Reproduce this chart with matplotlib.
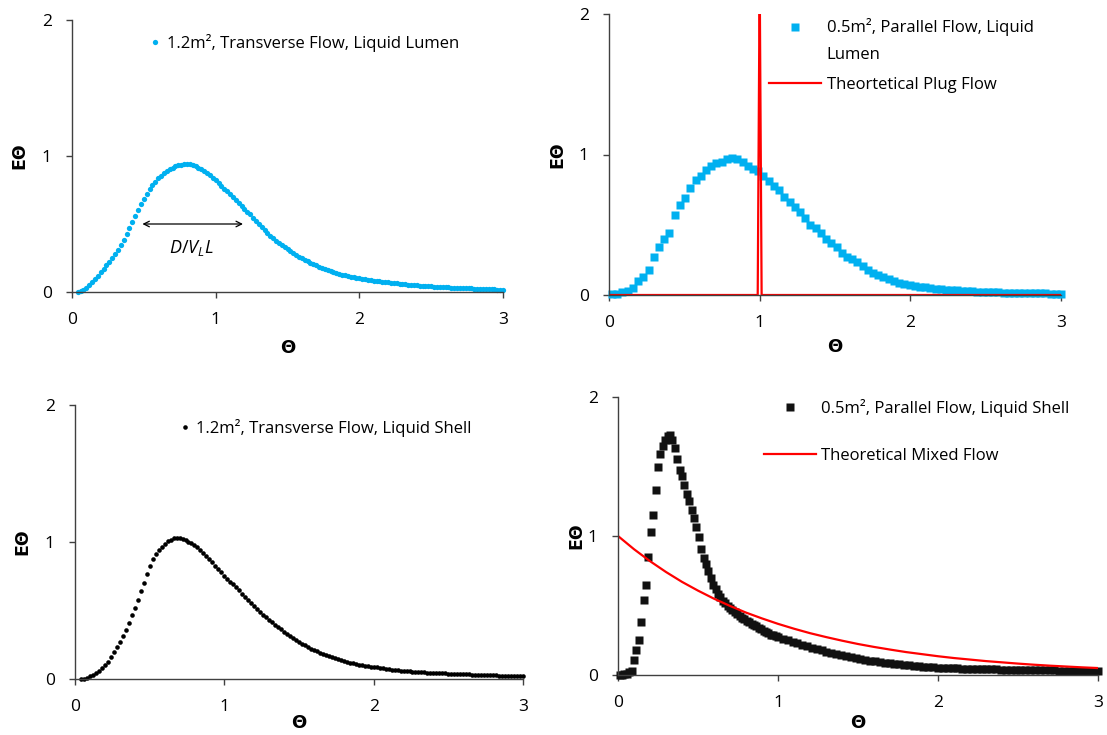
import matplotlib
matplotlib.use('Agg')
import matplotlib.pyplot as plt
import matplotlib.transforms as mtransforms
from matplotlib.legend_handler import HandlerLine2D
import numpy as np

plt.rcParams['font.family'] = ['Open Sans', 'DejaVu Sans']
plt.rcParams['mathtext.fontset'] = 'custom'
plt.rcParams['mathtext.it'] = 'Open Sans:italic'
plt.rcParams['mathtext.rm'] = 'Open Sans'

# --- data ---
# 1.2 m2, transverse flow, liquid lumen (theta 0.04 .. 3.00, step 0.02)
lumen_tf = [
    0.00, 0.005, 0.015, 0.03, 0.05, 0.07, 0.095, 0.12, 0.145, 0.17,
    0.195, 0.22, 0.25, 0.28, 0.31, 0.345, 0.385, 0.425, 0.47, 0.515,
    0.56, 0.605, 0.645, 0.685, 0.72, 0.755, 0.785, 0.81, 0.835, 0.855,
    0.875, 0.89, 0.905, 0.915, 0.925, 0.932, 0.937, 0.94, 0.94, 0.938,
    0.933, 0.925, 0.915, 0.903, 0.89, 0.875, 0.86, 0.84, 0.82, 0.80,
    0.78, 0.76, 0.74, 0.72, 0.70, 0.68, 0.655, 0.635, 0.61, 0.59,
    0.57, 0.545, 0.52, 0.50, 0.475, 0.455, 0.435, 0.415, 0.395, 0.375,
    0.36, 0.345, 0.33, 0.315, 0.30, 0.285, 0.27, 0.26, 0.248, 0.237,
    0.226, 0.215, 0.205, 0.195, 0.186, 0.177, 0.168, 0.16, 0.153, 0.146,
    0.14, 0.134, 0.128, 0.123, 0.118, 0.113, 0.109, 0.105, 0.10, 0.097,
    0.093, 0.09, 0.087, 0.084, 0.081, 0.078, 0.075, 0.073, 0.07, 0.068,
    0.066, 0.063, 0.061, 0.059, 0.057, 0.055, 0.053, 0.051, 0.049, 0.047,
    0.046, 0.044, 0.043, 0.041, 0.04, 0.039, 0.037, 0.036, 0.035, 0.034,
    0.033, 0.032, 0.031, 0.03, 0.029, 0.028, 0.027, 0.026, 0.025, 0.024,
    0.023, 0.022, 0.021, 0.02, 0.02, 0.019, 0.018, 0.017, 0.016,
]
theta_lumen_tf = np.linspace(0.04, 3.0, len(lumen_tf))

# 0.5 m2, parallel flow, liquid lumen (theta 0.02 .. 3.00)
lumen_pf = [
    0.005, 0.01, 0.018, 0.026, 0.05, 0.10, 0.13, 0.18, 0.27, 0.34,
    0.40, 0.44, 0.57, 0.64, 0.69, 0.76, 0.82, 0.85, 0.89, 0.92,
    0.94, 0.95, 0.965, 0.975, 0.965, 0.945, 0.92, 0.90, 0.88, 0.85,
    0.81, 0.775, 0.745, 0.70, 0.66, 0.625, 0.59, 0.545, 0.50, 0.475,
    0.44, 0.40, 0.37, 0.34, 0.30, 0.27, 0.255, 0.235, 0.205, 0.18,
    0.16, 0.14, 0.128, 0.115, 0.10, 0.088, 0.08, 0.072, 0.066, 0.06,
    0.055, 0.05, 0.046, 0.042, 0.039, 0.036, 0.033, 0.03, 0.028, 0.026,
    0.024, 0.022, 0.021, 0.02, 0.018, 0.017, 0.016, 0.015, 0.014, 0.013,
    0.013, 0.012, 0.011, 0.011, 0.01, 0.01, 0.01,
]
theta_lumen_pf = np.linspace(0.02, 3.0, len(lumen_pf))

# theoretical plug flow (narrow spike at theta = 1)
plug_theta = [0.0, 0.987, 1.0, 1.013, 3.0]
plug_e = [0.0, 0.0, 2.3, 0.0, 0.0]

# 1.2 m2, transverse flow, liquid shell (theta 0.04 .. 3.00, step 0.02)
shell_tf = [
    0.0, 0.003, 0.01, 0.02, 0.03, 0.045, 0.06, 0.08, 0.10, 0.125,
    0.16, 0.195, 0.23, 0.27, 0.315, 0.36, 0.41, 0.465, 0.52, 0.58,
    0.64, 0.70, 0.765, 0.825, 0.875, 0.915, 0.945, 0.965, 0.985, 1.005,
    1.018, 1.027, 1.03, 1.028, 1.022, 1.013, 1.002, 0.99, 0.977, 0.96,
    0.942, 0.922, 0.90, 0.876, 0.852, 0.828, 0.804, 0.78, 0.755, 0.733,
    0.711, 0.69, 0.668, 0.646, 0.624, 0.602, 0.58, 0.557, 0.534, 0.512,
    0.49, 0.47, 0.45, 0.431, 0.413, 0.396, 0.379, 0.362, 0.345, 0.329,
    0.313, 0.297, 0.283, 0.27, 0.257, 0.245, 0.233, 0.222, 0.212, 0.202,
    0.192, 0.182, 0.173, 0.165, 0.157, 0.15, 0.143, 0.136, 0.13, 0.124,
    0.119, 0.114, 0.109, 0.105, 0.101, 0.097, 0.094, 0.09, 0.087, 0.084,
    0.081, 0.078, 0.075, 0.072, 0.069, 0.066, 0.063, 0.061, 0.059, 0.057,
    0.056, 0.054, 0.053, 0.052, 0.05, 0.049, 0.047, 0.046, 0.045, 0.044,
    0.043, 0.042, 0.041, 0.04, 0.039, 0.038, 0.037, 0.036, 0.035, 0.034,
    0.033, 0.032, 0.032, 0.031, 0.030, 0.029, 0.028, 0.028, 0.027, 0.026,
    0.025, 0.025, 0.024, 0.023, 0.023, 0.022, 0.021, 0.021, 0.02,
]
theta_shell_tf = np.linspace(0.04, 3.0, len(shell_tf))

# 0.5 m2, parallel flow, liquid shell: fine steps up to ~1, coarser after
shell_pf_a = [
    0.0, 0.003, 0.006, 0.01, 0.018, 0.03, 0.11, 0.18, 0.25, 0.38,
    0.54, 0.65, 0.85, 1.03, 1.15, 1.33, 1.50, 1.59, 1.645, 1.69,
    1.72, 1.73, 1.69, 1.63, 1.555, 1.475, 1.43, 1.37, 1.30, 1.25,
    1.19, 1.13, 1.065, 0.99, 0.905, 0.845, 0.80, 0.745, 0.70, 0.65,
    0.62, 0.585, 0.56, 0.535, 0.515, 0.50, 0.485, 0.47, 0.455, 0.44,
    0.425, 0.41, 0.40, 0.39, 0.38, 0.37, 0.36, 0.35, 0.34, 0.33,
    0.32, 0.31, 0.30, 0.29, 0.285, 0.28,
]
shell_pf_b = [
    0.275, 0.262, 0.25, 0.238, 0.227, 0.217, 0.206, 0.196, 0.186, 0.177,
    0.168, 0.159, 0.15, 0.142, 0.135, 0.128, 0.121, 0.115, 0.109, 0.103,
    0.098, 0.093, 0.088, 0.084, 0.08, 0.077, 0.072, 0.069, 0.066, 0.063,
    0.06, 0.057, 0.055, 0.052, 0.051, 0.05, 0.048, 0.047, 0.046, 0.045,
    0.044, 0.043, 0.042, 0.041, 0.04, 0.04, 0.039, 0.038, 0.038, 0.037,
    0.036, 0.036, 0.035, 0.035, 0.034, 0.034, 0.033, 0.033, 0.032, 0.032,
    0.032, 0.031, 0.031, 0.031, 0.03, 0.03, 0.03,
]
theta_shell_pf = np.concatenate([np.linspace(0.01, 0.985, len(shell_pf_a)),
                                 np.linspace(1.0, 3.0, len(shell_pf_b))])
shell_pf = shell_pf_a + shell_pf_b

# theoretical mixed flow (theta 0 .. 3, step 0.1)
mixed_e = [1.0, 0.905, 0.819, 0.741, 0.670, 0.607, 0.549, 0.497, 0.449, 0.407,
           0.368, 0.333, 0.301, 0.273, 0.247, 0.223, 0.202, 0.183, 0.165, 0.150,
           0.135, 0.122, 0.111, 0.100, 0.091, 0.082, 0.074, 0.067, 0.061, 0.055,
           0.050]
mixed_theta = np.linspace(0, 3, len(mixed_e))

xticks = [0, 1, 2, 3]
yticks = [0, 1, 2]

BLUE = '#00B0F0'
RED = '#FF0000'
AXC = '#404040'
W, H = 1107, 735


class RaisedHandler(HandlerLine2D):
    # legend marker lined up with the first line of a two-line label
    def __init__(self, dy, **kw):
        super().__init__(**kw)
        self.dy = dy

    def create_artists(self, legend, orig_handle, xdescent, ydescent, width, height,
                       fontsize, trans):
        arts = super().create_artists(legend, orig_handle, xdescent, ydescent, width,
                                      height, fontsize, trans)
        shift = mtransforms.Affine2D().translate(0, self.dy) + trans
        for a in arts:
            a.set_transform(shift)
        return arts


def style(ax, ylab_x, xlab_y):
    ax.set_xlim(0, 3)
    ax.set_ylim(0, 2)
    ax.set_xticks(xticks)
    ax.set_yticks(yticks)
    for s in ['top', 'right']:
        ax.spines[s].set_visible(False)
    for s in ['left', 'bottom']:
        ax.spines[s].set_color(AXC)
        ax.spines[s].set_linewidth(1.0)
    ax.tick_params(direction='out', length=4.5, width=1, color=AXC,
                   labelsize=12.5, pad=10)
    ax.set_xlabel('Θ', fontsize=13, fontweight='bold', family='DejaVu Sans', va='center')
    ax.xaxis.set_label_coords(0.5, xlab_y)
    ax.set_ylabel('EΘ', fontsize=12.5, fontweight='bold', family='DejaVu Sans', va='center')
    ax.yaxis.set_label_coords(ylab_x, 0.5)


fig = plt.figure(figsize=(W / 100, H / 100), dpi=100)
ax1 = fig.add_axes([72 / W, 1 - 292 / H, 431 / W, 272 / H])
ax2 = fig.add_axes([609 / W, 1 - 295 / H, 452 / W, 281 / H])
ax3 = fig.add_axes([75 / W, 1 - 679 / H, 448 / W, 274 / H])
ax4 = fig.add_axes([618 / W, 1 - 675 / H, 480 / W, 278 / H])

leg_font = {'family': 'Open Sans', 'size': 12}

# panel 1
ax1.plot(theta_lumen_tf, lumen_tf, 'o', color=BLUE, ms=3.8, mec='none', clip_on=False,
         label='1.2m², Transverse Flow, Liquid Lumen')
ax1.annotate('', xy=(0.49, 0.5), xytext=(1.19, 0.5),
             arrowprops=dict(arrowstyle='<->', color='black', lw=0.9, shrinkA=0, shrinkB=0))
ax1.text(0.83, 0.32, r'$D/V_{L}L$', fontsize=13, ha='center', va='center')
style(ax1, -0.123, -0.206)
ax1.legend(loc='center left', bbox_to_anchor=(0.177, 0.915), frameon=False, borderpad=0,
           borderaxespad=0, handlelength=0.8, handletextpad=0.3, numpoints=1, prop=leg_font)

# panel 2
pts2, = ax2.plot(theta_lumen_pf, lumen_pf, 's', color=BLUE, ms=5.2, mec='none', clip_on=False,
                 label='0.5m², Parallel Flow, Liquid\nLumen')
ax2.plot(plug_theta, plug_e, '-', color=RED, lw=1.6, label='Theortetical Plug Flow')
style(ax2, -0.115, -0.185)
leg2 = ax2.legend(loc='upper left', bbox_to_anchor=(0.354, 0.986), frameon=False, borderpad=0,
                  borderaxespad=0, handlelength=3.1, handletextpad=0.36, labelspacing=0.85,
                  numpoints=1, prop=leg_font,
                  handler_map={pts2: RaisedHandler(10)})
for t in leg2.get_texts():
    t.set_linespacing(1.9)

# panel 3
ax3.plot(theta_shell_tf, shell_tf, 'o', color='black', ms=3.3, mec='none', clip_on=False,
         label='1.2m², Transverse Flow, Liquid Shell')
style(ax3, -0.118, -0.16)
ax3.legend(loc='center left', bbox_to_anchor=(0.23, 0.915), frameon=False, borderpad=0,
           borderaxespad=0, handlelength=0.8, handletextpad=0.3, numpoints=1, prop=leg_font)

# panel 4
ax4.plot(theta_shell_pf, shell_pf, 's', color='#111111', ms=5.4, mec='none', clip_on=False,
         label='0.5m², Parallel Flow, Liquid Shell')
ax4.plot(mixed_theta, mixed_e, '-', color=RED, lw=1.6, label='Theoretical Mixed Flow')
style(ax4, -0.0875, -0.173)
ax4.legend(loc='upper left', bbox_to_anchor=(0.304, 0.993), frameon=False, borderpad=0,
           borderaxespad=0, handlelength=3.1, handletextpad=0.3, labelspacing=1.85,
           numpoints=1, prop=leg_font)

fig.savefig('out.png', dpi=100)
